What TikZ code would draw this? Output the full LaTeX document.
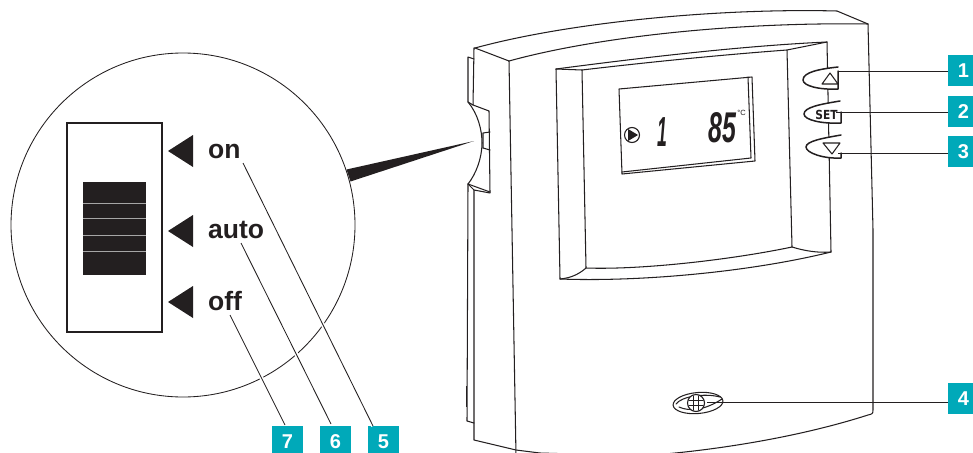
\documentclass[tikz,border=0pt]{standalone}
\usepackage{fontspec}
\usepackage{graphicx}
\setmainfont{Liberation Sans}
\newfontfamily\heavyfont{DejaVu Sans}
\definecolor{ink}{HTML}{231F20}
\definecolor{teal}{HTML}{00A9B9}
\tikzset{
  body/.style={draw=ink,line width=1.05pt,line join=round,line cap=round},
  knob/.style={draw=ink,line width=1.5pt,line join=round,line cap=round,fill=white},
  callout/.style={fill=teal,text=white,minimum width=31pt,minimum height=31pt,inner sep=0pt,font=\fontsize{20}{22}\selectfont\bfseries},
  leader/.style={draw=ink,line width=0.85pt},
  haloleader/.style={leader,preaction={draw=white,line width=4pt}},
  marker/.style={fill=ink,draw=none},
  word/.style={anchor=base west,inner sep=0pt,text=ink,font=\fontsize{26.5}{30}\selectfont\bfseries}
}
\begin{document}
\begin{tikzpicture}[x=1pt,y=-1pt]
\useasboundingbox (0,0) rectangle (973,452);
\clip (0,0) rectangle (973,452);
% ---- magnifier
\node[circle,draw=ink,line width=0.85pt,minimum size=344pt,inner sep=0pt] (lens) at (183,225) {};
\fill[ink] (474,141) -- (346.5,169.5) -- (350.5,181.5) -- cycle;
\node[draw=ink,line width=2pt,minimum width=95pt,minimum height=209pt,inner sep=0pt] (switch) at (114.5,227.5) {};
\node[fill=ink,minimum width=63pt,minimum height=93pt,inner sep=0pt] (slider) at (114.5,228.5) {};
\foreach \yy in {203,218,235,251} \draw[gray!70,line width=0.8pt] (83,\yy) -- (146,\yy);
\foreach \yy in {151,231,302} \fill[marker] (168,\yy) -- (193,\yy-16) -- (193,\yy+16) -- cycle;
\node[word] (on) at (208,158) {on};
\node[word] (auto) at (208,238) {auto};
\node[word] (off) at (208,310) {off};
% ---- housing
\draw[body] (475,48) .. controls (570,22) and (720,8) .. (837,11) -- (868,24) -- (873,230) -- (873,410) .. controls (873,414) and (872,414) .. (868,415) .. controls (790,440) and (700,452) .. (640,456) -- (540,453) -- (516,450) -- (474,440) -- (474,190) -- (490,193) -- (489,111) -- (473,105) -- (474,48) -- cycle;
\draw[body] (509,61) .. controls (600,36) and (740,22) .. (868,24);
\draw[body] (475,48) -- (509,61) -- (516,456);
% left side
\draw[body] (474,59) -- (468,57) -- (468,102) -- (473,105);
\draw[body] (468,102) .. controls (478,114) and (482,130) .. (482,143) .. controls (482,158) and (476,174) .. (468,184) -- (490,192);
\draw[body] (468,184) -- (474,190);
\draw[body] (468,184) -- (467,421) -- (474,423);
\draw[body] (483,133) -- (490,132) (483,133) -- (483,148) -- (490,150);
\draw[ink,line width=1.8pt] (466.5,386) -- (466.5,407);
% bezel
\draw[body] (556,69) .. controls (640,58) and (740,46) .. (827,42) -- (831,252) .. controls (750,272) and (640,282) .. (560,279) -- cycle;
\draw[body] (582,70) .. controls (650,62) and (720,55) .. (787,50) -- (792,247) .. controls (730,260) and (640,270) .. (586,268) -- cycle;
\draw[body] (556,69) -- (582,70) (787,50) -- (827,42);
\draw[body] (586,268) .. controls (578,275) and (570,278) .. (560,279);
\draw[body] (792,247) .. controls (805,251) and (818,253) .. (831,252);
% display
\draw[body] (619,89) -- (752,77) -- (755,161) -- (622,174) -- cycle;
\draw[body] (748,77) -- (751,158) -- (622,172);
\node[circle,draw=ink,line width=1.1pt,minimum size=15pt,inner sep=0pt] (pump) at (632,135) {};
\fill[ink] (628,129) -- (638,135) -- (628,141) -- cycle;
\node[inner sep=0pt,text=ink] (one) at (662,132) {\fontsize{42}{44}\selectfont\itshape\bfseries\scalebox{0.42}[1]{1}};
\node[inner sep=0pt,text=ink] (temp) at (722,127.5) {\fontsize{43}{44}\selectfont\itshape\bfseries\scalebox{0.58}[1]{85}};
\node[inner sep=0pt,text=ink] (unit) at (741.5,112.5) {\fontsize{7.5}{8}\selectfont °C};
% buttons
\draw[knob] (838,67) .. controls (820,69) and (803,72) .. (803,80) .. controls (803,86) and (820,90) .. (838,89) -- (838,71);
\draw[body] (830,73) -- (838,84) -- (822,84) -- cycle;
\draw[knob] (840,101) .. controls (822,104) and (804,107) .. (804,114) .. controls (804,120) and (822,124) .. (841,123) -- (841,112);
\node[inner sep=0pt,text=ink] (set) at (826.5,114.5) {\heavyfont\bfseries\fontsize{12.5}{13}\selectfont\scalebox{0.85}[1]{SET}};
\draw[knob] (841,135) .. controls (824,138) and (806,141) .. (806,147) .. controls (806,153) and (824,159) .. (841,158) -- (841,153);
\draw[body] (823,143) -- (840,143) -- (832,154) -- cycle;
% screw
\draw[body,rotate around={5:(698,403)}] (698,403) ellipse[x radius=25pt,y radius=10.5pt];
\draw[body] (676,404) .. controls (682,396) and (705,393) .. (720,397);
\draw[body] (679,407) .. controls (690,412) and (705,410) .. (722,399);
\node[circle,draw=ink,fill=white,line width=1.1pt,minimum size=17pt,inner sep=0pt] (screw) at (696,403) {};
\draw[body] (693.5,396) -- (693.5,410) (698.5,396) -- (698.5,410) (689,400.5) -- (703,400.5) (689,405.5) -- (703,405.5);
% callouts
\node[callout] (n1) at (963.5,70.5) {1};
\node[callout] (n2) at (963.5,111.5) {2};
\node[callout] (n3) at (963.5,151.5) {3};
\node[callout] (n4) at (963.5,398.5) {4};
\node[callout] (n5) at (383.5,441.5) {5};
\node[callout] (n6) at (335.5,441.5) {6};
\node[callout] (n7) at (287.5,441.5) {7};
\coordinate (a1) at (838,71);
\coordinate (a2) at (836,112);
\coordinate (a3) at (838,153);
\coordinate (a4) at (707,402);
\coordinate (a5) at (243,163);
\coordinate (a6) at (241,243);
\coordinate (a7) at (230,315);
\draw[leader] (a1) -- (a1 -| n1.west);
\draw[leader] (a2) -- (a2 -| n2.west);
\draw[leader] (a3) -- (a3 -| n3.west);
\draw[leader] (a4) -- (a4 -| n4.west);
\draw[haloleader] (a5) -- (373,426);
\draw[haloleader] (a6) -- (331,424);
\draw[haloleader] (a7) -- (285,425);
\end{tikzpicture}
\end{document}
